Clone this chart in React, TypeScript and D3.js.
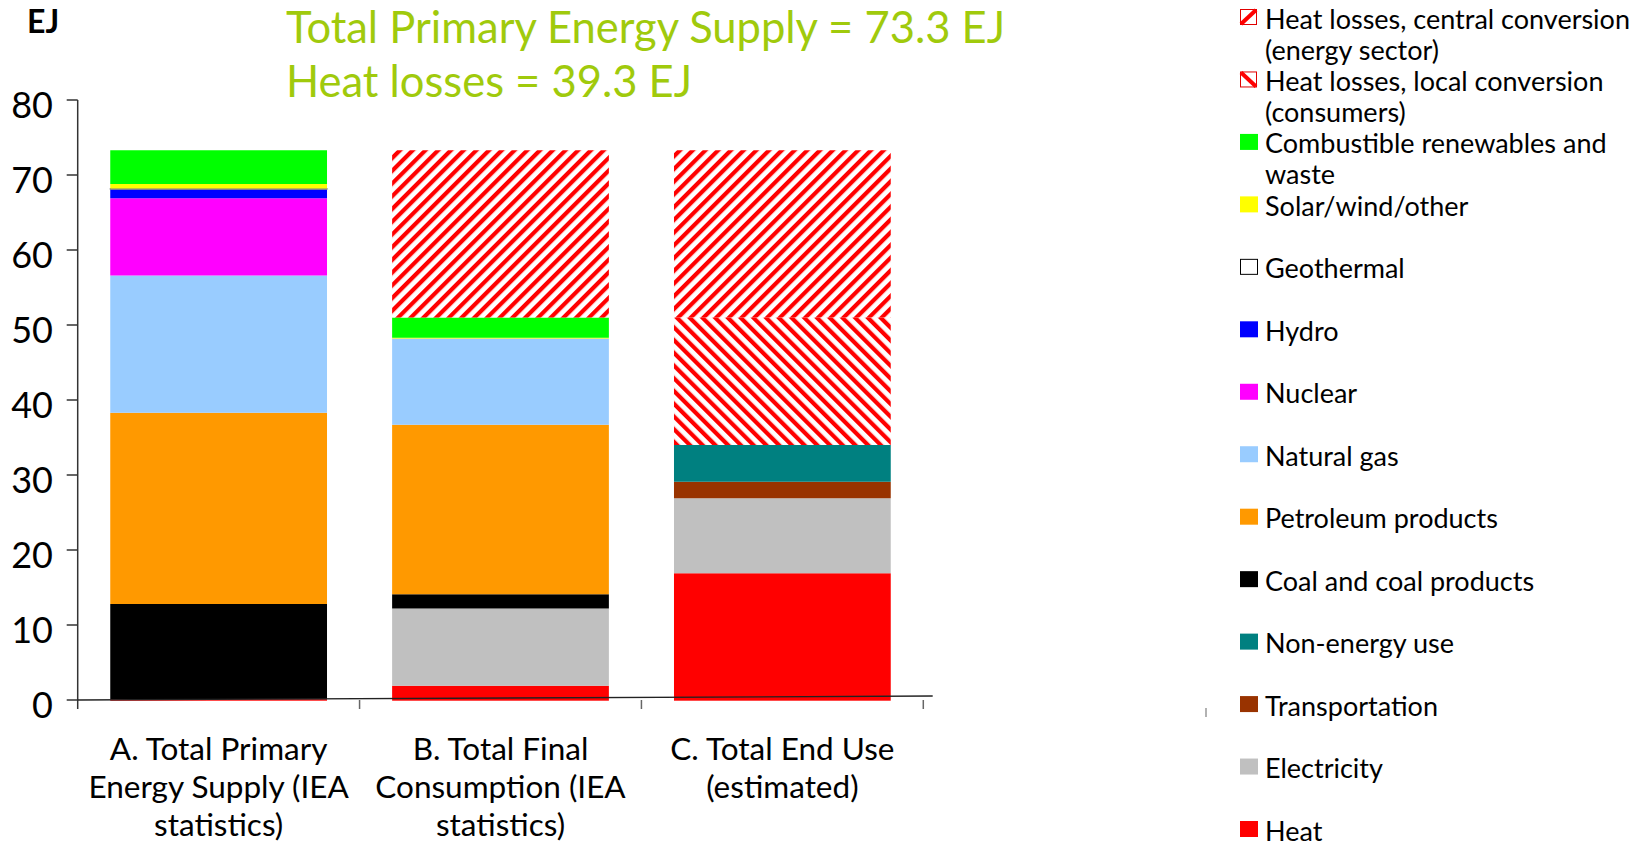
import React from "react";
import * as d3 from "d3";

// categories (bars) and their multi-line labels
const categories = ["A", "B", "C"];
const categoryLabels = [
  ["A. Total Primary", "Energy Supply (IEA", "statistics)"],
  ["B. Total Final", "Consumption (IEA", "statistics)"],
  ["C. Total End Use", "(estimated)"],
];

// series values, EJ, one entry per category (A, B, C); stacked bottom -> top
const heat = [0.1, 1.9, 16.9];
const electricity = [0, 10.3, 10.0];
const transportation = [0, 0, 2.2];
const nonEnergyUse = [0, 0, 4.9];
const coal = [12.7, 1.9, 0];
const petroleum = [25.5, 22.6, 0];
const naturalGas = [18.3, 11.5, 0];
const nuclear = [10.3, 0, 0];
const hydro = [1.2, 0, 0];
const geothermal = [0.1, 0, 0];
const solarWind = [0.6, 0.1, 0];
const combustible = [4.5, 2.7, 0];
const lossesLocal = [0, 0, 17.0];
const lossesCentral = [0, 22.3, 22.3];

const seriesKeys = [
  "heat", "electricity", "transportation", "nonEnergy", "coal", "petroleum",
  "gas", "nuclear", "hydro", "geothermal", "solar", "combustible",
  "lossesLocal", "lossesCentral",
];
const seriesValues = [
  heat, electricity, transportation, nonEnergyUse, coal, petroleum,
  naturalGas, nuclear, hydro, geothermal, solarWind, combustible,
  lossesLocal, lossesCentral,
];
const seriesLabels = [
  ["Heat"], ["Electricity"], ["Transportation"], ["Non-energy use"],
  ["Coal and coal products"], ["Petroleum products"], ["Natural gas"],
  ["Nuclear"], ["Hydro"], ["Geothermal"], ["Solar/wind/other"],
  ["Combustible renewables and", "waste"],
  ["Heat losses, local conversion", "(consumers)"],
  ["Heat losses, central conversion", "(energy sector)"],
];

const yTicks = [0, 10, 20, 30, 40, 50, 60, 70, 80];

const fills: Record<string, string> = {
  heat: "#FF0000",
  electricity: "#C0C0C0",
  transportation: "#993300",
  nonEnergy: "#008080",
  coal: "#000000",
  petroleum: "#FF9900",
  gas: "#99CCFF",
  nuclear: "#FF00FF",
  hydro: "#0000FF",
  geothermal: "#FFFFFF",
  solar: "#FFFF00",
  combustible: "#00FF00",
  lossesLocal: "url(#hatchLocal)",
  lossesCentral: "url(#hatchCentral)",
};

const W = 1650;
const H = 846;
const FONT = "Lato, 'Open Sans', sans-serif";
const TITLE_COLOR = "#A0CA0C";

export default function App() {
  const rows = categories.map((c, i) => {
    const row: Record<string, any> = { category: c };
    seriesKeys.forEach((k, j) => (row[k] = seriesValues[j][i]));
    return row;
  });
  const stacked = d3.stack<any>().keys(seriesKeys)(rows);

  const y = d3.scaleLinear().domain([0, 80]).range([700, 100]);
  const x = d3
    .scaleBand<string>()
    .domain(categories)
    .range([77.7, 923.3])
    .paddingInner(0.231)
    .paddingOuter(0.1155);
  const [x0, x1] = x.range();
  const step = x.step();

  // legend: reversed stack order, top to bottom
  const legendOrder = d3.range(seriesKeys.length).reverse();
  const legendY = d3.scaleLinear().domain([0, 13]).range([9, 821]);

  return (
    <svg
      width={W}
      height={H}
      style={{ position: "absolute", left: 0, top: 0, background: "#fff" }}
      fontFamily={FONT}
    >
      <defs>
        <pattern
          id="hatchCentral"
          patternUnits="userSpaceOnUse"
          width={9}
          height={9}
          patternTransform="rotate(45)"
        >
          <rect width={9} height={9} fill="#fff" />
          <rect width={4.2} height={9} fill="#FF0000" />
        </pattern>
        <pattern
          id="hatchLocal"
          patternUnits="userSpaceOnUse"
          width={9}
          height={9}
          patternTransform="rotate(-45)"
        >
          <rect width={9} height={9} fill="#fff" />
          <rect width={4.2} height={9} fill="#FF0000" />
        </pattern>
      </defs>

      {/* titles */}
      <text x={27} y={33} fontSize={32} fontWeight="bold" fill="#000">
        EJ
      </text>
      <text x={286} y={43} fontSize={43.5} fill={TITLE_COLOR}>
        Total Primary Energy Supply = 73.3 EJ
      </text>
      <text x={286} y={97} fontSize={43.5} fill={TITLE_COLOR}>
        Heat losses = 39.3 EJ
      </text>

      {/* bars */}
      {stacked.map((layer) => (
        <g key={layer.key}>
          {layer
            .filter((d) => d[1] - d[0] > 0)
            .map((d) => (
              <rect
                key={d.data.category}
                x={x(d.data.category)}
                y={y(d[1])}
                width={x.bandwidth()}
                height={Math.max(0.8, y(d[0]) - y(d[1]) + (d[0] === 0 ? 0.7 : 0))}
                fill={fills[layer.key]}
                stroke={layer.key === "geothermal" ? "#7f7f7f" : "none"}
                strokeWidth={1}
              />
            ))}
        </g>
      ))}

      {/* y axis */}
      <line x1={x0} x2={x0} y1={y(80)} y2={y(0) + 9} stroke="#333" strokeWidth={1.5} />
      {yTicks.map((t) => (
        <g key={t}>
          <line x1={x0 - 11} x2={x0} y1={y(t)} y2={y(t)} stroke="#333" strokeWidth={1.5} />
          <text x={53} y={y(t) + 17.5} textAnchor="end" fontSize={36} fill="#000">
            {t}
          </text>
        </g>
      ))}

      {/* x axis (slightly tilted as in the source) */}
      <line x1={x0} y1={y(0)} x2={x1 + 9.4} y2={y(0) - 4} stroke="#222" strokeWidth={1.3} />
      {d3.range(1, categories.length + 1).map((i) => (
        <line
          key={i}
          x1={x0 + i * step}
          x2={x0 + i * step}
          y1={y(0)}
          y2={y(0) + 9}
          stroke="#666"
          strokeWidth={1.5}
        />
      ))}
      {categories.map((c, i) => (
        <text
          key={c}
          x={(x(c) ?? 0) + x.bandwidth() / 2}
          y={760}
          textAnchor="middle"
          fontSize={31.5}
          fill="#000"
        >
          {categoryLabels[i].map((line, k) => (
            <tspan key={k} x={(x(c) ?? 0) + x.bandwidth() / 2} dy={k === 0 ? 0 : 38}>
              {line}
            </tspan>
          ))}
        </text>
      ))}

      {/* legend */}
      {legendOrder.map((si, row) => {
        const key = seriesKeys[si];
        const top = legendY(row);
        const isHatch = key === "lossesLocal" || key === "lossesCentral";
        return (
          <g key={key}>
            {isHatch ? (
              <g>
                <rect x={1240.5} y={top + 0.5} width={16} height={15} fill="#fff" stroke="#E00000" strokeWidth={1} />
                {key === "lossesCentral" ? (
                  <line x1={1241} y1={top + 15} x2={1256} y2={top + 1} stroke="#FF0000" strokeWidth={4} />
                ) : (
                  <line x1={1241} y1={top + 1} x2={1256} y2={top + 15} stroke="#FF0000" strokeWidth={4} />
                )}
              </g>
            ) : (
              <rect
                x={key === "geothermal" ? 1240.5 : 1240}
                y={key === "geothermal" ? top + 0.5 : top}
                width={key === "geothermal" ? 17 : 18}
                height={key === "geothermal" ? 15 : 16}
                fill={fills[key]}
                stroke={key === "geothermal" ? "#000" : "none"}
                strokeWidth={1}
              />
            )}
            <text x={1265} y={top + 19.5} fontSize={27} fill="#000">
              {seriesLabels[si].map((line, k) => (
                <tspan key={k} x={1265} dy={k === 0 ? 0 : 31}>
                  {line}
                </tspan>
              ))}
            </text>
          </g>
        );
      })}
      <line x1={1206} x2={1206} y1={708} y2={717} stroke="#999" strokeWidth={1.5} />
    </svg>
  );
}
